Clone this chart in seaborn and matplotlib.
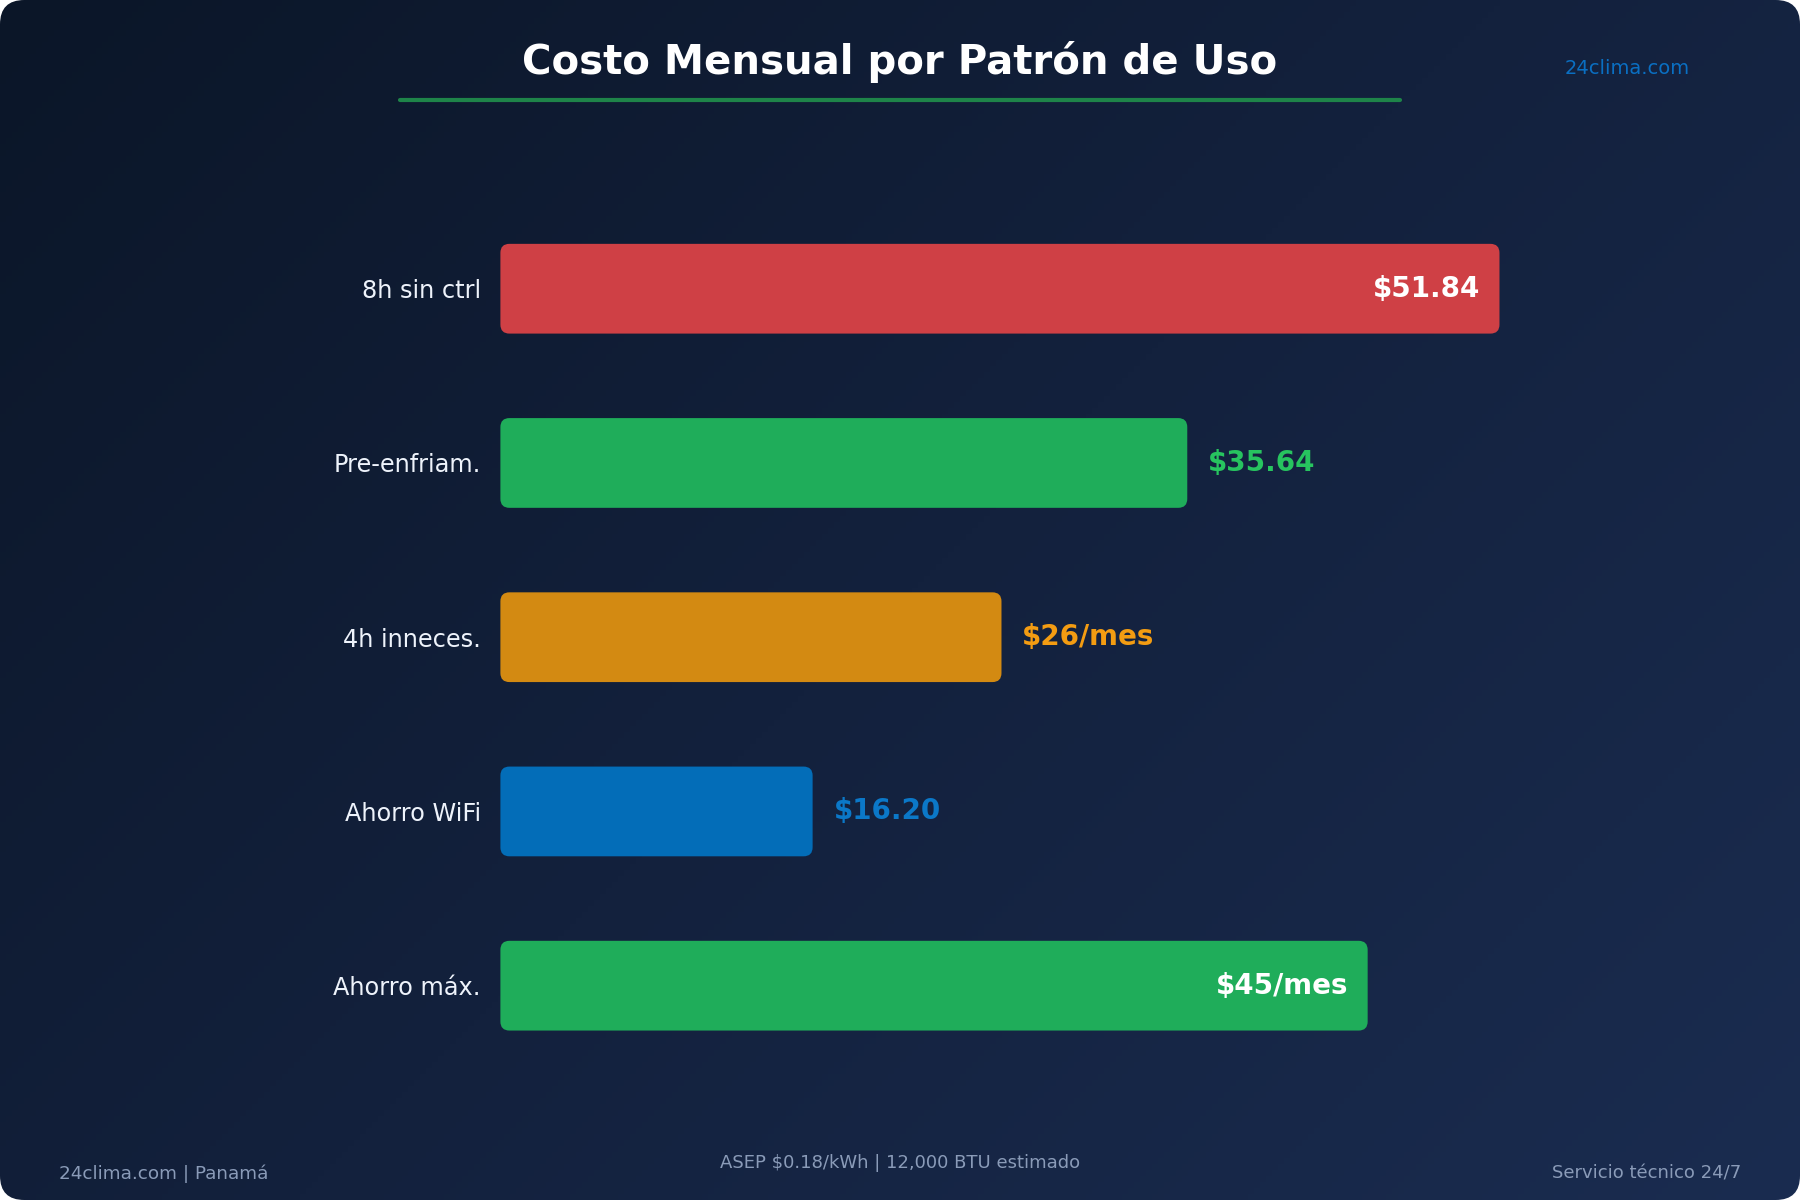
import numpy as np
import matplotlib
matplotlib.use("Agg")
import matplotlib.pyplot as plt
from matplotlib.patches import FancyBboxPatch
from matplotlib.colors import LinearSegmentedColormap
import seaborn as sns

# ---- data ----
patterns = ["8h sin ctrl", "Pre-enfriam.", "4h inneces.", "Ahorro WiFi", "Ahorro máx."]
costs = [51.84, 35.64, 26.0, 16.20, 45.0]
cost_labels = ["$51.84", "$35.64", "$26/mes", "$16.20", "$45/mes"]
label_inside = [True, False, False, False, True]

BAR_COLORS = ["#cf4045", "#1fad5a", "#d38a12", "#036db8", "#1fad5a"]
TEXT_COLORS = ["#ffffff", "#27c45f", "#f39c12", "#0b78c8", "#ffffff"]
MUTED = "#8a9bb8"

sns.set_theme(style="white")
plt.rcParams["font.family"] = ["DejaVu Sans"]

fig = plt.figure(figsize=(18, 12), dpi=100, facecolor="white")

# ---- rounded gradient background ----
bg = fig.add_axes([0, 0, 1, 1])
bg.set_axis_off()
yy, xx = np.mgrid[0:1:200j, 0:1:300j]
grad = (xx * 0.6 + yy * 0.4)
cmap = LinearSegmentedColormap.from_list("bg", ["#0b1628", "#13213d", "#1a2c50"])
img = bg.imshow(grad, cmap=cmap, extent=[0, 1, 0, 1], origin="upper",
                aspect="auto", zorder=0)
frame = FancyBboxPatch((0, 0), 1, 1, boxstyle="round,pad=0,rounding_size=0.0135",
                       mutation_aspect=1.5, transform=bg.transAxes,
                       facecolor="none", edgecolor="none")
bg.add_patch(frame)
img.set_clip_path(frame)
bg.set_xlim(0, 1); bg.set_ylim(0, 1)

# ---- header ----
fig.text(0.5, 0.948, "Costo Mensual por Patrón de Uso", ha="center", va="center",
         fontsize=29, fontweight="bold", color="white")
fig.add_artist(plt.Line2D([0.222, 0.778], [0.917, 0.917], color="#1e8449", lw=3))
fig.text(0.904, 0.943, "24clima.com", ha="center", va="center",
         fontsize=14, color="#0a6fc2")

# ---- bars ----
ax = fig.add_axes([0.278, 0.106, 0.621, 0.726])
ax.set_facecolor("none")
sns.barplot(x=costs, y=patterns, hue=patterns, palette=BAR_COLORS, legend=False,
            orient="h", width=0.515, ax=ax, saturation=1)
xmax = 58.0
ax.set_xlim(0, xmax)
ax.set_ylim(len(patterns) - 0.5, -0.5)

# swap plain rectangles for rounded ones
w_px = 0.621 * 1800
h_px = 0.726 * 1200
px_x = w_px / xmax
px_y = h_px / len(patterns)
rad = 9 / px_x
for p in list(ax.patches):
    rb = FancyBboxPatch((p.get_x(), p.get_y()), p.get_width(), p.get_height(),
                        boxstyle=f"round,pad=0,rounding_size={rad}",
                        mutation_aspect=px_x / px_y,
                        facecolor=p.get_facecolor(), edgecolor="none", zorder=2)
    p.remove()
    ax.add_patch(rb)

for i, (v, txt, inside) in enumerate(zip(costs, cost_labels, label_inside)):
    if inside:
        ax.annotate(txt, xy=(v, i), xytext=(-14, 0), textcoords="offset points",
                    ha="right", va="center", fontsize=20, fontweight="bold",
                    color=TEXT_COLORS[i], zorder=3)
    else:
        ax.annotate(txt, xy=(v, i), xytext=(15, 0), textcoords="offset points",
                    ha="left", va="center", fontsize=20, fontweight="bold",
                    color=TEXT_COLORS[i], zorder=3)

ax.set_xlabel(""); ax.set_ylabel("")
ax.set_xticks([])
ax.tick_params(axis="y", length=0, pad=14, labelsize=17.3, labelcolor="#eef3fb")
sns.despine(ax=ax, left=True, bottom=True)

# ---- footer ----
fig.text(0.033, 0.022, "24clima.com | Panamá", ha="left", va="center",
         fontsize=13.2, color=MUTED)
fig.text(0.5, 0.031, "ASEP $0.18/kWh | 12,000 BTU estimado", ha="center",
         va="center", fontsize=13, color=MUTED)
fig.text(0.9675, 0.022, "Servicio técnico 24/7", ha="right", va="center",
         fontsize=13, color=MUTED)

fig.savefig("out.png", dpi=100, facecolor="white")
